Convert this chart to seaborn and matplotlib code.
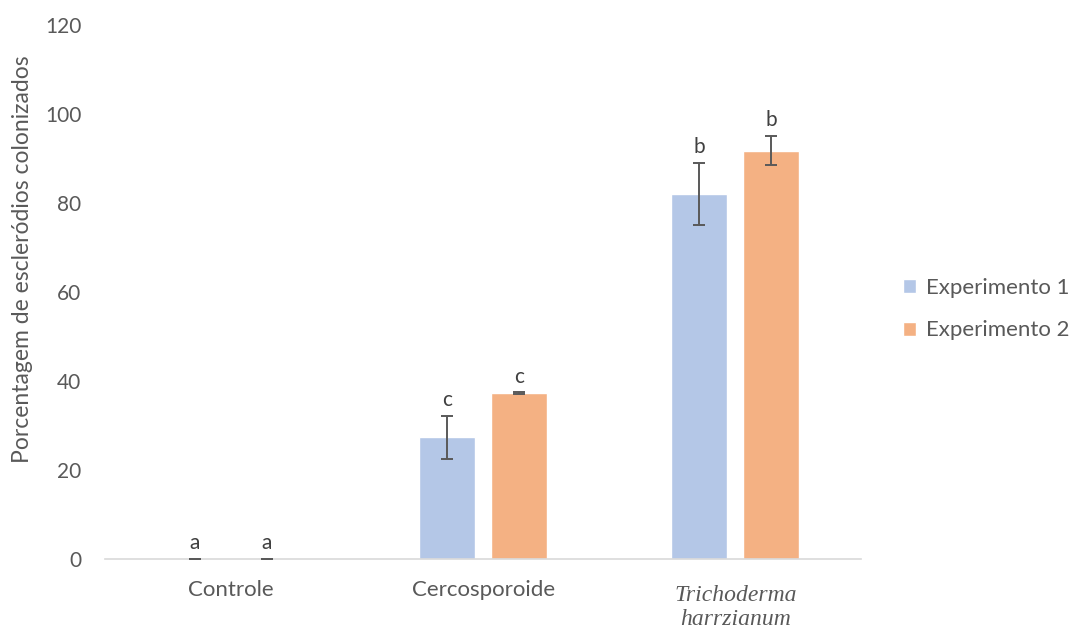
import matplotlib
matplotlib.use("Agg")
import matplotlib.pyplot as plt
import matplotlib.transforms as mtransforms
import seaborn as sns
import pandas as pd
import numpy as np

# Treatments, series and measured values
categories = ["Controle", "Cercosporoide", "Trichoderma\nharrzianum"]
series = ["Experimento 1", "Experimento 2"]
exp1_mean = [0.0, 27.3, 82.0]
exp2_mean = [0.0, 37.3, 91.8]
exp1_err = [0.0, 4.9, 7.0]
exp2_err = [0.0, 0.2, 3.3]
exp1_letters = ["a", "c", "b"]
exp2_letters = ["a", "c", "b"]

colors = ["#B4C7E7", "#F4B183"]
text_gray = "#595959"
group_width = 0.571

df = pd.DataFrame({
    "Tratamento": categories * 2,
    "Experimento": [series[0]] * 3 + [series[1]] * 3,
    "Valor": exp1_mean + exp2_mean,
})

sns.set_theme(style="white")
plt.rcParams["font.family"] = ["Lato", "DejaVu Sans"]

fig = plt.figure(figsize=(10.7, 6.3), dpi=100)
ax = fig.add_axes([0.098, 0.113, 0.707, 0.847])

sns.barplot(data=df, x="Tratamento", y="Valor", hue="Experimento",
            order=categories, hue_order=series, palette=colors,
            width=group_width, gap=0.222, errorbar=None, saturation=1,
            ax=ax, legend=True)

# Error bars and significance letters at the dodged bar centres
means = [exp1_mean, exp2_mean]
errs = [exp1_err, exp2_err]
letters = [exp1_letters, exp2_letters]
for k in range(len(series)):
    offset = (k - 0.5) * group_width / 2
    for i in range(len(categories)):
        xc = i + offset
        h = means[k][i]
        e = errs[k][i]
        ax.errorbar(xc, h, yerr=e, fmt="none", ecolor=text_gray,
                    elinewidth=1.4, capsize=4.5, capthick=1.4, zorder=3)
        ax.annotate(letters[k][i], (xc, h + e), xytext=(0, 4),
                    textcoords="offset points", ha="center", va="bottom",
                    fontsize=15, color="#404040")

ax.set_ylim(0, 120)
ax.set_xlim(-0.5, 2.5)
ax.set_yticks(np.arange(0, 121, 20))
ax.tick_params(axis="y", length=0, labelsize=15, labelcolor=text_gray, pad=17)
ax.tick_params(axis="x", length=0, labelsize=16, labelcolor=text_gray, pad=15)
ax.set_xlabel("")
ax.set_ylabel("Porcentagem de escleródios colonizados", fontsize=16.5,
              color=text_gray)
ax.yaxis.set_label_coords(-0.095, 0.562)

# Species name in italic serif, set slightly lower with wider line spacing
shift_down = mtransforms.ScaledTranslation(0, -5 / 100, fig.dpi_scale_trans)
for lbl in ax.get_xticklabels():
    if lbl.get_text().startswith("Trichoderma"):
        lbl.set_fontfamily("Liberation Serif")
        lbl.set_fontstyle("italic")
        lbl.set_fontsize(17)
        lbl.set_linespacing(1.2)
        lbl.set_transform(lbl.get_transform() + shift_down)

for side in ["left", "right", "top"]:
    ax.spines[side].set_visible(False)
ax.spines["bottom"].set_color("#D9D9D9")
ax.spines["bottom"].set_linewidth(1.2)
ax.grid(False)

leg = ax.legend(loc="center left", bbox_to_anchor=(903 / 1070, 0.509),
                bbox_transform=fig.transFigure, frameon=False, borderpad=0,
                borderaxespad=0, fontsize=16, handlelength=0.6,
                handleheight=0.6, labelspacing=1.0, handletextpad=0.45)
for t in leg.get_texts():
    t.set_color(text_gray)

fig.savefig("out.png", dpi=100, facecolor="white")
